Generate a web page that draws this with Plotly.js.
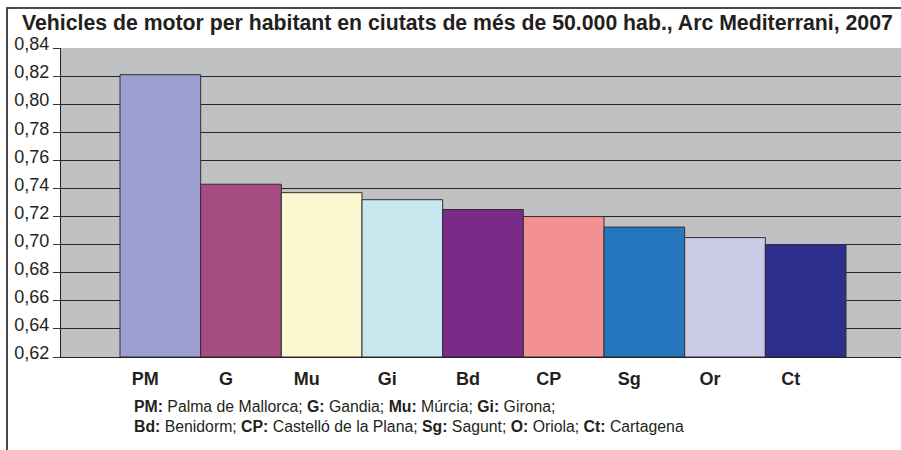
<!DOCTYPE html>
<html>
<head>
<meta charset="utf-8">
<script src="https://cdn.plot.ly/plotly-3.0.1.min.js"></script>
<style>
  html, body { margin: 0; padding: 0; background: #ffffff; }
  #wrap { position: relative; width: 901px; height: 450px; overflow: hidden; }
  #chart { position: absolute; left: 0; top: 0; width: 901px; height: 450px; }
  #frame { position: absolute; left: 6px; top: 7px; width: 1000px; height: 1000px;
           border-left: 2px solid #4a4a4a; border-top: 2px solid #4a4a4a; pointer-events: none; }
</style>
</head>
<body>
<div id="wrap">
  <div id="chart"></div>
  <div id="frame"></div>
</div>
<script>
// Data
const categories = ["PM", "G", "Mu", "Gi", "Bd", "CP", "Sg", "Or", "Ct"];
const values = [0.821, 0.743, 0.737, 0.732, 0.725, 0.720, 0.7125, 0.705, 0.700];
const barColors = ["#9d9fd0", "#a54d80", "#fbf7d0", "#c8e8f0", "#7a2a87", "#f39192", "#2576bf", "#c9cbe7", "#2e2e8e"];
const yTickVals = [0.62, 0.64, 0.66, 0.68, 0.70, 0.72, 0.74, 0.76, 0.78, 0.80, 0.82, 0.84];
const yTickText = ["0,62", "0,64", "0,66", "0,68", "0,70", "0,72", "0,74", "0,76", "0,78", "0,80", "0,82", "0,84"];
const titleText = "Vehicles de motor per habitant en ciutats de més de 50.000 hab., Arc Mediterrani, 2007";
const noteLine1 = "<b>PM:</b> Palma de Mallorca; <b>G:</b> Gandia; <b>Mu:</b> Múrcia; <b>Gi:</b> Girona;";
const noteLine2 = "<b>Bd:</b> Benidorm; <b>CP:</b> Castelló de la Plana; <b>Sg:</b> Sagunt; <b>O:</b> Oriola; <b>Ct:</b> Cartagena";

const FONT = "Liberation Sans, Arial, Helvetica, sans-serif";
const TXT = "#231f20";
const BASE = 0.62;

const trace = {
  type: "bar",
  x: categories,
  y: values.map(v => v - BASE),
  base: BASE,
  marker: { color: barColors, line: { color: "#303030", width: 1 } },
  hoverinfo: "skip"
};

const layout = {
  width: 901,
  height: 450,
  margin: { l: 61, r: 0, t: 48, b: 93, pad: 0 },
  paper_bgcolor: "rgba(0,0,0,0)",
  plot_bgcolor: "#c0c1c3",
  showlegend: false,
  bargap: 0,
  title: {
    text: "<b>" + titleText + "</b>",
    font: { family: FONT, size: 21.25, color: TXT },
    x: 22 / 901, xanchor: "left", xref: "container",
    y: 1 - 22.5 / 450, yanchor: "middle", yref: "container"
  },
  xaxis: {
    type: "category",
    range: [-1.2314, 9.1818],
    showgrid: false,
    zeroline: false,
    showline: true,
    linecolor: "#222222",
    linewidth: 1,
    ticks: "",
    ticklabelshift: -15,
    ticklabelstandoff: 5,
    tickfont: { family: FONT, size: 18, color: TXT, weight: "bold" },
    fixedrange: true
  },
  yaxis: {
    range: [0.62, 0.84],
    tickmode: "array",
    tickvals: yTickVals,
    ticktext: yTickText,
    showgrid: true,
    gridcolor: "#262626",
    gridwidth: 1,
    zeroline: false,
    showline: true,
    linecolor: "#222222",
    linewidth: 1,
    ticks: "outside",
    ticklen: 7,
    tickcolor: "#333333",
    ticklabelshift: -4,
    tickfont: { family: FONT, size: 18, color: TXT },
    fixedrange: true
  },
  annotations: [
    {
      text: noteLine1, showarrow: false,
      xref: "paper", yref: "paper",
      x: (131.5 - 61) / 840, xanchor: "left",
      y: (357.3 - 406.7) / 309, yanchor: "middle",
      font: { family: FONT, size: 15.8, color: TXT }
    },
    {
      text: noteLine2, showarrow: false,
      xref: "paper", yref: "paper",
      x: (131.5 - 61) / 840, xanchor: "left",
      y: (357.3 - 426.7) / 309, yanchor: "middle",
      font: { family: FONT, size: 15.8, color: TXT }
    }
  ]
};

Plotly.newPlot("chart", [trace], layout, { staticPlot: true, displayModeBar: false });
</script>
</body>
</html>
